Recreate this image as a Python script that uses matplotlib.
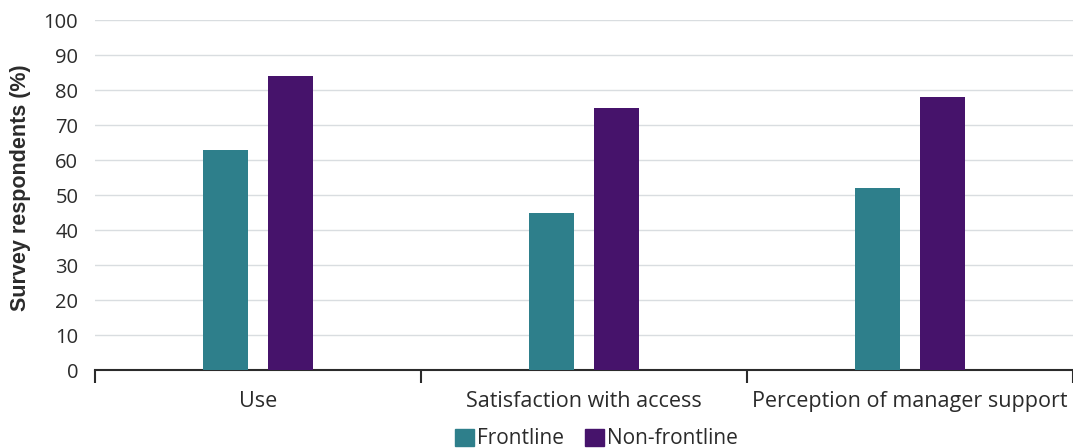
import numpy as np
import matplotlib.pyplot as plt
from matplotlib.patches import Patch

categories = ['Use', 'Satisfaction with access', 'Perception of manager support']
frontline = [63, 45, 52]
non_frontline = [84, 75, 78]
yticks = list(range(0, 101, 10))

plt.rcParams['font.family'] = ['Open Sans', 'DejaVu Sans']

fig = plt.figure(figsize=(10.73, 4.48), dpi=100)
ax = fig.add_axes([0.0885, 0.174, 0.9115, 0.781])

x = np.arange(len(categories))
w = 0.14
c1 = '#2e7f8b'
c2 = '#46136b'
ax.bar(x - 0.1, frontline, w, color=c1, zorder=3)
ax.bar(x + 0.1, non_frontline, w, color=c2, zorder=3)

ax.set_xlim(-0.5, 2.5)
ax.set_ylim(0, 100)
ax.set_yticks(yticks)
ax.grid(axis='y', color='#d9dde0', linewidth=1, zorder=0)

ax.set_xticks(x)
ax.set_xticklabels(categories, fontsize=15.5, color='#2b2b2b')
ax.tick_params(axis='x', which='major', length=0, pad=15)
ax.set_xticks(np.arange(-0.5, 2.6, 1), minor=True)
ax.tick_params(axis='x', which='minor', length=9, width=1.5, color='#2b2b2b', direction='out')
ax.tick_params(axis='y', length=0, labelsize=14.5, labelcolor='#2b2b2b', pad=12)

for s in ['top', 'right', 'left']:
    ax.spines[s].set_visible(False)
ax.spines['bottom'].set_color('#2b2b2b')
ax.spines['bottom'].set_linewidth(1.5)

ax.set_ylabel('Survey respondents (%)', fontsize=15.5, fontweight='bold', color='#2b2b2b',
              family='Liberation Sans')
ax.yaxis.set_label_coords(-0.065, 0.52)

handles = [Patch(color=c1, label='Frontline'), Patch(color=c2, label='Non-frontline')]
fig.legend(handles=handles, loc='lower center', bbox_to_anchor=(0.556, -0.045), ncol=2,
           frameon=False, fontsize=15, handlelength=0.9, handleheight=0.9,
           handletextpad=0.15, columnspacing=1.0, labelcolor='#2b2b2b')

fig.savefig('out.png', dpi=100)
